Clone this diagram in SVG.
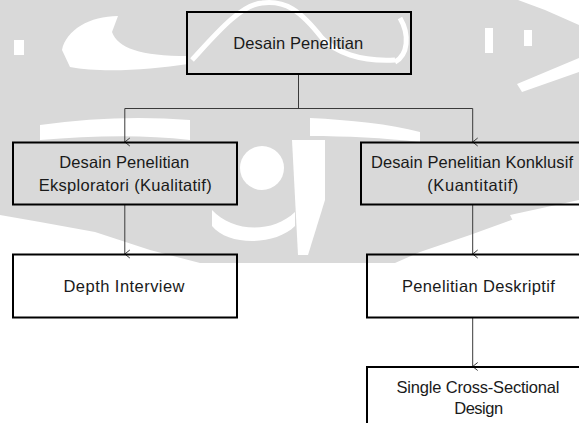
<svg xmlns="http://www.w3.org/2000/svg" width="579" height="423" viewBox="0 0 579 423">
  <defs>
    <style>
      .box { fill: none; stroke: #000; stroke-width: 2; }
      .lbl { font-family: "Liberation Sans", Arial, sans-serif; font-size: 16.5px; fill: #1a1a1a; text-anchor: middle; }
      .conn { fill: none; stroke: #3a3a3a; stroke-width: 1; }
      .wm { fill: #d9d9d9; }
      .wh { fill: #ffffff; }
    </style>
    <marker id="arr" markerWidth="10" markerHeight="10" refX="5" refY="6" orient="auto" markerUnits="userSpaceOnUse" viewBox="0 0 10 10">
      <path d="M1,1 L5,6 L9,1" fill="none" stroke="#3a3a3a" stroke-width="1"/>
    </marker>
  </defs>

  <rect x="0" y="0" width="579" height="423" fill="#ffffff"/>

  <g id="watermark">
    <path class="wm" d="M0,0 H579 V205 L525,215 L470,235 L420,252 L395,263 L200,263 L150,250 L95,232 L40,222 L0,215 Z"/>
    <path class="wh" d="M62,50 C66,30 90,16 118,16 L112,32 C118,48 140,56 188,56 L188,64 C150,70 100,73 70,67 Z"/>
    <rect class="wh" x="14" y="40" width="10" height="15"/>
    <path d="M192,60 C215,35 240,5 262,3 C285,0 300,10 322,38 C335,52 360,62 395,60" fill="none" stroke="#fff" stroke-width="5"/>
    <path d="M400,18 C410,35 408,55 395,62" fill="none" stroke="#fff" stroke-width="5"/>
    <rect class="wh" x="485" y="28" width="8" height="25"/>
    <rect class="wh" x="524" y="30" width="8" height="16"/>
    <path class="wh" d="M518,0 H579 V25 L545,10 Z"/>
    <path class="wh" d="M517,84 L579,58 V72 L522,92 Z"/>
    <path class="wh" d="M40,125 C90,118 140,116 190,120 L190,140 C140,134 90,136 40,140 Z"/>
    <path class="wh" d="M310,118 C350,120 390,124 420,132 L420,142 C385,138 345,136 310,136 Z"/>
    <ellipse class="wh" cx="262" cy="168" rx="22" ry="22"/>
    <path class="wh" d="M212,210 C232,232 272,234 295,212 L295,226 C275,246 228,246 212,226 Z"/>
    <path class="wh" d="M292,140 H325 V200 L308,255 H298 Z"/>
    <path class="wh" d="M510,215 L579,200 V240 L520,235 Z"/>
  </g>

  <g id="connectors">
    <path class="conn" d="M298.5,74 V108.5"/>
    <path class="conn" d="M124.8,108.5 H472.7"/>
    <path class="conn" d="M124.8,108.5 V142" marker-end="url(#arr)"/>
    <path class="conn" d="M472.7,108.5 V142" marker-end="url(#arr)"/>
    <path class="conn" d="M124.8,205 V254" marker-end="url(#arr)"/>
    <path class="conn" d="M472.7,205 V254" marker-end="url(#arr)"/>
    <path class="conn" d="M472.7,318 V366.5" marker-end="url(#arr)"/>
  </g>

  <g id="n-desain-penelitian">
    <rect class="box" x="187" y="12" width="224" height="62"/>
    <text class="lbl" x="298.3" y="49" textLength="130">Desain Penelitian</text>
  </g>

  <g id="n-eksploratori">
    <rect class="box" x="13" y="142.5" width="224" height="62"/>
    <text class="lbl" x="124.3" y="167.5" textLength="130">Desain Penelitian</text>
    <text class="lbl" x="125.2" y="191" textLength="173">Eksploratori (Kualitatif)</text>
  </g>

  <g id="n-konklusif">
    <rect class="box" x="361" y="142.5" width="224" height="62"/>
    <text class="lbl" x="472" y="167.5" textLength="202">Desain Penelitian Konklusif</text>
    <text class="lbl" x="472.8" y="191" textLength="91">(Kuantitatif)</text>
  </g>

  <g id="n-depth-interview">
    <rect class="box" x="13" y="254.5" width="224" height="63"/>
    <text class="lbl" x="124" y="291.5" textLength="121">Depth Interview</text>
  </g>

  <g id="n-deskriptif">
    <rect class="box" x="367" y="254.5" width="224" height="63"/>
    <text class="lbl" x="478.4" y="291.5" textLength="153">Penelitian Deskriptif</text>
  </g>

  <g id="n-cross-sectional">
    <rect class="box" x="367" y="367" width="224" height="63"/>
    <text class="lbl" x="478" y="393" textLength="163">Single Cross-Sectional</text>
    <text class="lbl" x="478.7" y="414" textLength="49">Design</text>
  </g>
</svg>
